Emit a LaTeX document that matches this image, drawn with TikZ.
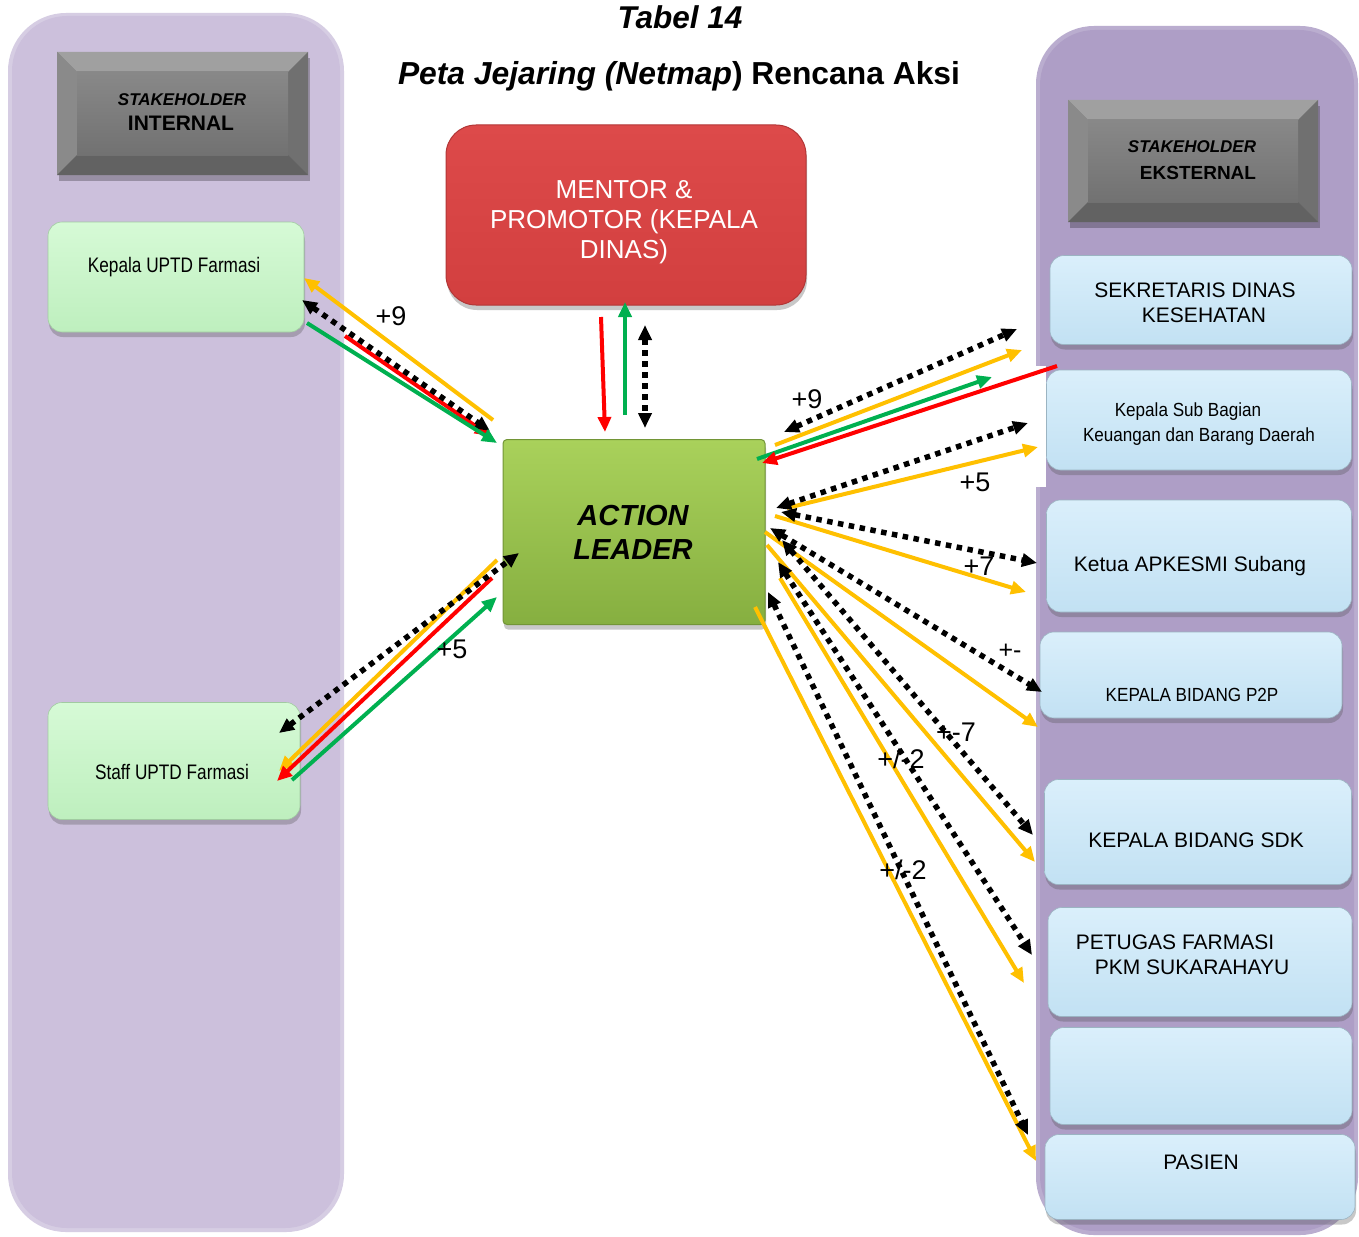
\documentclass[tikz,border=0pt]{standalone}
\usepackage{fontspec}
\setmainfont{Liberation Sans}
\newfontfamily\narrowf[FakeStretch=0.82]{Liberation Sans}
\newfontfamily\semif[FakeStretch=0.9]{Liberation Sans}
\usetikzlibrary{arrows.meta,shadows,calc}
\definecolor{lavL}{HTML}{CCC0DC}
\definecolor{lavR}{HTML}{AE9EC6}
\definecolor{gboxT}{HTML}{D6FAD6}
\definecolor{gboxB}{HTML}{BEEFBE}
\definecolor{bboxT}{HTML}{DAEFFB}
\definecolor{bboxB}{HTML}{C2E1F3}
\definecolor{redT}{HTML}{DD4A4A}
\definecolor{redB}{HTML}{D23F3F}
\definecolor{alT}{HTML}{A9D15B}
\definecolor{alB}{HTML}{86AF40}
\definecolor{aorange}{HTML}{FFC000}
\definecolor{ared}{HTML}{FF0000}
\definecolor{agreen}{HTML}{00B050}
\definecolor{gC}{HTML}{7E7E7E}
\definecolor{gTop}{HTML}{A0A0A0}
\definecolor{gLeft}{HTML}{8A8A8A}
\definecolor{gRight}{HTML}{707070}
\definecolor{gBot}{HTML}{626262}
\newcommand\bevbox[5]{%
  \fill[black,opacity=.25] (#1+2,#2+6) rectangle (#3+2,#4+6);
  \fill[gC] (#1,#2) rectangle (#3,#4);
  \fill[gTop] (#1,#2) -- (#3,#2) -- (#3-#5,#2+#5) -- (#1+#5,#2+#5) -- cycle;
  \fill[gLeft] (#1,#2) -- (#1+#5,#2+#5) -- (#1+#5,#4-#5) -- (#1,#4) -- cycle;
  \fill[gRight] (#3,#2) -- (#3-#5,#2+#5) -- (#3-#5,#4-#5) -- (#3,#4) -- cycle;
  \fill[gBot] (#1,#4) -- (#1+#5,#4-#5) -- (#3-#5,#4-#5) -- (#3,#4) -- cycle;
  \fill[top color=gC!92!white,bottom color=gC!90!black] (#1+#5,#2+#5) rectangle (#3-#5,#4-#5);
}
\begin{document}
\begin{tikzpicture}[x=1pt,y=-1pt,
  >={Triangle[length=15pt,width=13pt]},
  shd/.style={drop shadow={shadow xshift=1pt,shadow yshift=-5pt,opacity=.3,fill=black!70}},
  gbx/.style={shd,rounded corners=14pt,top color=gboxT,bottom color=gboxB,draw=gboxB!85!black,line width=0.6pt},
  bbx/.style={shd,rounded corners=14pt,top color=bboxT,bottom color=bboxB,draw=bboxB!80!black,line width=0.6pt},
  txt/.style={anchor=base,inner sep=0pt,text=black},
  rtxt/.style={txt,font=\fontsize{21}{25}\selectfont},
  lbl/.style={txt,font=\fontsize{27}{30}\selectfont},
  org/.style={draw=aorange,line width=4pt,->},
  rd/.style={draw=ared,line width=4pt,->},
  grn/.style={draw=agreen,line width=4pt,->},
  dts/.style={draw=black,line width=5.5pt,dash pattern=on 5.5pt off 5.5pt,<->}
]
\useasboundingbox (0,0) rectangle (1359,1236);
\fill[white] (0,0) rectangle (1359,1236);

% columns
\fill[lavL!80!white,rounded corners=58pt] (8,13) rectangle (344,1232);
\fill[lavL,rounded corners=55pt] (12,16) rectangle (340,1228);
\fill[lavR!85!white,rounded corners=58pt] (1036,26) rectangle (1358,1235);
\fill[lavR,rounded corners=55pt] (1040,30) rectangle (1354,1231);
\fill[white] (1035,366) rectangle (1046,487);

% headers
\bevbox{57}{52}{308}{175}{20}
\bevbox{1068}{100}{1318}{222}{20}
\node[txt,font=\fontsize{17}{20}\selectfont\bfseries\itshape] (hL1) at (182,106) {STAKEHOLDER};
\node[txt,font=\fontsize{21}{24}\selectfont\bfseries] (hL2) at (181,131) {INTERNAL};
\node[txt,font=\fontsize{17}{20}\selectfont\bfseries\itshape] (hR1) at (1192,153) {STAKEHOLDER};
\node[txt,font=\fontsize{19}{22}\selectfont\bfseries] (hR2) at (1198,179) {EKSTERNAL};

% title
\node[txt,font=\fontsize{31.5}{34}\selectfont\bfseries\itshape] (t1) at (680,29) {Tabel 14};
\node[txt,font=\fontsize{31.8}{34}\selectfont\bfseries] (t2) at (679,85) {\itshape Peta Jejaring (Netmap\upshape) Rencana Aksi};

% internal boxes
\node[gbx,minimum width=256pt,minimum height=110pt] (kup) at (176,277) {};
\node[txt,font=\narrowf\fontsize{21}{24}\selectfont] (kupT) at (174,272) {Kepala UPTD Farmasi};
\node[gbx,minimum width=252pt,minimum height=117pt] (stf) at (174,761) {};
\node[txt,font=\narrowf\fontsize{21}{24}\selectfont] (stfT) at (172,779) {Staff UPTD Farmasi};

% mentor
\node[shd,rounded corners=30pt,top color=redT,bottom color=redB,draw=redB!85!black,line width=1pt,
  minimum width=360pt,minimum height=180pt] (men) at (626,215) {};
\node[txt,font=\fontsize{26}{30}\selectfont,text=white] (m1) at (624,198) {MENTOR \&};
\node[txt,font=\fontsize{26}{30}\selectfont,text=white] (m2) at (624,228) {PROMOTOR (KEPALA};
\node[txt,font=\fontsize{26}{30}\selectfont,text=white] (m3) at (624,258) {DINAS)};

% action leader
\node[shd,rounded corners=4pt,top color=alT,bottom color=alB,draw=alB!85!black,line width=1pt,
  minimum width=262pt,minimum height=185pt] (al) at (634,532) {};
\node[txt,font=\fontsize{29}{34}\selectfont\bfseries\itshape] (al1) at (633,525) {ACTION};
\node[txt,font=\fontsize{29}{34}\selectfont\bfseries\itshape] (al2) at (633,559) {LEADER};

% external boxes
\node[bbx,minimum width=302pt,minimum height=89pt] (sek) at (1201,300) {};
\node[rtxt] (sekT1) at (1195,297) {SEKRETARIS DINAS};
\node[rtxt] (sekT2) at (1204,322) {KESEHATAN};
\node[bbx,minimum width=305pt,minimum height=100pt] (ksb) at (1199,420) {};
\node[txt,font=\semif\fontsize{19}{22}\selectfont] (ksbT1) at (1188,416) {Kepala Sub Bagian};
\node[txt,font=\semif\fontsize{19}{22}\selectfont] (ksbT2) at (1199,441) {Keuangan dan Barang Daerah};
\node[bbx,minimum width=305pt,minimum height=112pt] (ket) at (1199,556) {};
\node[rtxt] (ketT) at (1190,571) {Ketua APKESMI Subang};
\node[bbx,minimum width=302pt,minimum height=86pt] (p2p) at (1191,675) {};
\node[txt,font=\semif\fontsize{19}{22}\selectfont] (p2pT) at (1192,701) {KEPALA BIDANG P2P};
\node[bbx,minimum width=307pt,minimum height=105pt] (sdk) at (1198,832) {};
\node[rtxt] (sdkT) at (1196,847) {KEPALA BIDANG SDK};
\node[bbx,minimum width=304pt,minimum height=109pt] (pet) at (1200,962) {};
\node[rtxt] (petT1) at (1175,949) {PETUGAS FARMASI};
\node[rtxt] (petT2) at (1192,974) {PKM SUKARAHAYU};
\node[bbx,minimum width=302pt,minimum height=97pt] (emp) at (1201,1076) {};
\node[bbx,minimum width=310pt,minimum height=85pt] (pas) at (1200,1177) {};
\node[rtxt] (pasT) at (1201,1169) {PASIEN};

% ---------- connectors ----------
% Kepala UPTD <-> Action Leader
\path (345,336) coordinate (kr1) (490,436) coordinate (kr2)
      (302,300) coordinate (kd1) (490,431) coordinate (kd2)
      (307,323) coordinate (kg1) (497,443) coordinate (kg2)
      (493,420) coordinate (ko1) (304,278) coordinate (ko2);
\draw[rd] (kr1) -- (kr2);
\draw[dts] (kd1) -- (kd2);
\draw[grn] (kg1) -- (kg2);
\draw[org] (ko1) -- (ko2);
\node[lbl] (l1) at (391,325) {+9};

% Mentor <-> Action Leader
\path (601,317) coordinate (mr1) (605,432) coordinate (mr2)
      (625,415) coordinate (mg1) (625,302) coordinate (mg2)
      (645,325) coordinate (md1) (645,428) coordinate (md2);
\draw[rd] (mr1) -- (mr2);
\draw[grn] (mg1) -- (mg2);
\draw[dts] (md1) -- (md2);

% Staff <-> Action Leader
\path (497,560) coordinate (so1) (279,771) coordinate (so2)
      (492,578) coordinate (sr1) (277,781) coordinate (sr2)
      (292,780) coordinate (sg1) (497,597) coordinate (sg2)
      (279,733) coordinate (sd1) (519,553) coordinate (sd2);
\draw[org] (so1) -- (so2);
\draw[rd] (sr1) -- (sr2);
\draw[grn] (sg1) -- (sg2);
\draw[dts] (sd1) -- (sd2);
\node[lbl] (l2) at (452,658) {+5};

% Sekretaris
\path (784,432) coordinate (ed1) (1017,329) coordinate (ed2)
      (775,445) coordinate (eo1) (1022,350) coordinate (eo2)
      (757,459) coordinate (eg1) (992,377) coordinate (eg2)
      (1057,366) coordinate (er1) (762,463) coordinate (er2);
\draw[org] (eo1) -- (eo2);
\draw[grn] (eg1) -- (eg2);
\draw[rd] (er1) -- (er2);
\draw[dts] (ed1) -- (ed2);
\node[lbl] (l3) at (807,408) {+9};

% Kepala Sub Bagian
\path (776,508) coordinate (kbd1) (1028,423) coordinate (kbd2)
      (787,508) coordinate (kbo1) (1038,447) coordinate (kbo2);
\draw[org] (kbo1) -- (kbo2);
\draw[dts] (kbd1) -- (kbd2);
\node[lbl] (l4) at (975,491) {+5};

% Ketua APKESMI
\path (781,512) coordinate (ktd1) (1037,563) coordinate (ktd2)
      (775,516) coordinate (kto1) (1026,592) coordinate (kto2);
\draw[org] (kto1) -- (kto2);
\draw[dts] (ktd1) -- (ktd2);
\node[lbl] (l5) at (979,575) {+7};

% P2P
\path (770,528) coordinate (pd1) (1042,692) coordinate (pd2)
      (765,532) coordinate (po1) (1038,727) coordinate (po2);
\draw[org] (po1) -- (po2);
\draw[dts] (pd1) -- (pd2);
\node[lbl,font=\fontsize{25}{28}\selectfont] (l6) at (1010,658) {+-};

% SDK
\path (782,540) coordinate (dd1) (1033,835) coordinate (dd2)
      (767,545) coordinate (do1) (1035,862) coordinate (do2);
\draw[org] (do1) -- (do2);
\draw[dts] (dd1) -- (dd2);
\node[lbl] (l7) at (956,741) {+-7};

% Petugas
\path (778,562) coordinate (fd1) (1032,955) coordinate (fd2)
      (780,578) coordinate (fo1) (1024,983) coordinate (fo2);
\draw[org] (fo1) -- (fo2);
\draw[dts] (fd1) -- (fd2);
\node[lbl] (l8) at (901,768) {+/-2};

% Pasien
\path (768,592) coordinate (ad1) (1028,1135) coordinate (ad2)
      (755,607) coordinate (ao1) (1036,1161) coordinate (ao2);
\draw[org] (ao1) -- (ao2);
\draw[dts] (ad1) -- (ad2);
\node[lbl] (l9) at (903,879) {+/-2};
\end{tikzpicture}
\end{document}
